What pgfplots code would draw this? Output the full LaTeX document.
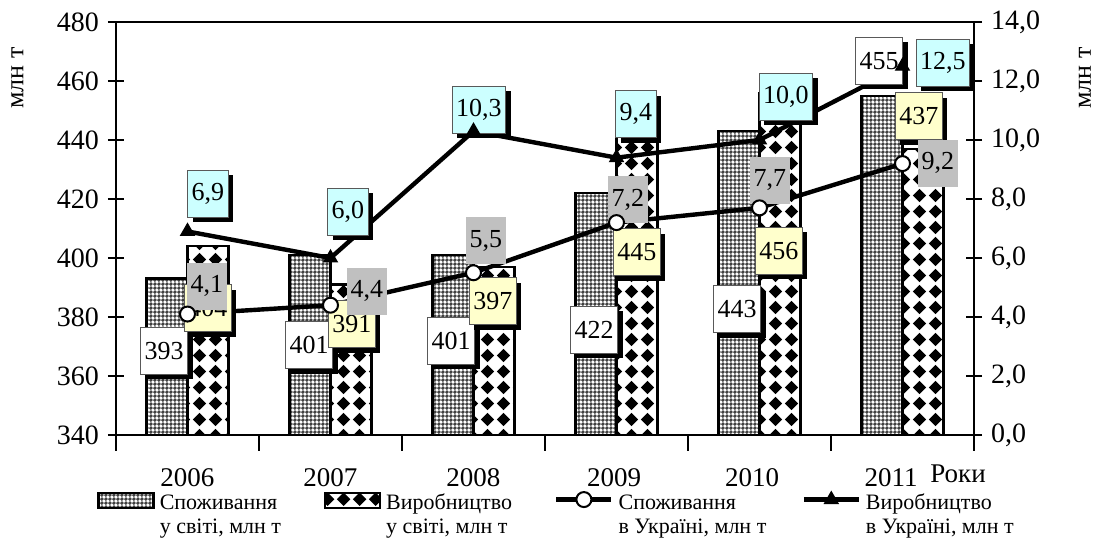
\documentclass[border=0pt]{standalone}
\usepackage{fontspec}
\setmainfont{Liberation Serif}
\usepackage{pgfplots}
\pgfplotsset{compat=1.18}
\usetikzlibrary{patterns,shadows}

\pgfdeclarepatternformonly{finecheck}{\pgfqpoint{0pt}{0pt}}{\pgfqpoint{2.2pt}{2.2pt}}{\pgfqpoint{2.2pt}{2.2pt}}{%
  \pgfpathmoveto{\pgfqpoint{1.1pt}{0pt}}\pgfpathlineto{\pgfqpoint{2.2pt}{1.1pt}}%
  \pgfpathlineto{\pgfqpoint{1.1pt}{2.2pt}}\pgfpathlineto{\pgfqpoint{0pt}{1.1pt}}%
  \pgfpathclose\pgfusepath{fill}}
\pgfdeclarepatternformonly{bigdiamonds}{\pgfqpoint{0pt}{0pt}}{\pgfqpoint{8pt}{8pt}}{\pgfqpoint{8pt}{8pt}}{%
  \pgfpathmoveto{\pgfqpoint{4pt}{0.5pt}}\pgfpathlineto{\pgfqpoint{7.5pt}{4pt}}%
  \pgfpathlineto{\pgfqpoint{4pt}{7.5pt}}\pgfpathlineto{\pgfqpoint{0.5pt}{4pt}}%
  \pgfpathclose\pgfusepath{fill}}

\definecolor{labyellow}{HTML}{FFFFCC}
\definecolor{labcyan}{HTML}{CCFFFF}
\definecolor{labgray}{HTML}{C0C0C0}

\newcommand{\bigfont}{\fontsize{13}{15}\selectfont}
\newcommand{\yfont}{\fontsize{14}{16}\selectfont}
\newcommand{\xfont}{\fontsize{13.5}{16}\selectfont}
\newcommand{\legfont}{\fontsize{11}{12}\selectfont}

\tikzset{
  lab/.style={font=\bigfont, inner xsep=2pt, inner ysep=0pt, minimum height=23.5pt,
    draw=black!65, line width=0.5pt,
    drop shadow={shadow xshift=2.5pt, shadow yshift=-2.5pt, fill=black, opacity=1}},
  labg/.style={font=\bigfont, inner xsep=2pt, inner ysep=0pt, minimum height=23.5pt, fill=labgray},
}

\pgfplotsset{
  consbar/.style={draw=black, line width=1.2pt, pattern=finecheck, pattern color=black!75},
  prodbar/.style={draw=black, line width=1.2pt, pattern=bigdiamonds, pattern color=black},
  barleg/.style={legend image code/.code={\draw[##1] (0pt,0.5pt) rectangle (27.5pt,8pt);}},
  lineleg/.style={legend image code/.code={\draw[mark repeat=2,mark phase=2,##1]
      plot coordinates {(0pt,4.75pt)(13.75pt,4.75pt)(27.5pt,4.75pt)};}},
  consline/.style={black, line width=2.2pt, mark=*, mark size=3.75pt,
      mark options={fill=white, draw=black, line width=1pt}},
  prodline/.style={black, line width=2.2pt, mark=triangle*, mark size=4pt,
      mark options={fill=black, draw=black, line width=0.5pt}},
}

\begin{document}
\begin{tikzpicture}
\useasboundingbox (-58pt,-52pt) rectangle (491pt,217.5pt);

% ---------- world bars (left axis) ----------
\begin{axis}[
  scale only axis, width=429pt, height=206.5pt,
  xmin=-0.5, xmax=5.5, ymin=340, ymax=480,
  ytick={340,360,...,480}, ytick pos=left,
  xtick={0,1,2,2.983,3.948,4.920},
  xticklabels={2006,2007,2008,2009,2010,2011},
  minor xtick={-0.5,0.5,...,5.5}, xtick pos=bottom,
  tick align=center, major tick length=8pt, minor tick length=8pt,
  every major x tick/.append style={draw=none},
  every tick/.append style={black, line width=0.8pt},
  axis line style={line width=1.2pt},
  yticklabel style={font=\yfont},
  xticklabel style={font=\xfont},
  /pgf/number format/assume math mode=true,
  yticklabel shift=1.0pt, xticklabel shift=5.2pt,
  ybar, bar width=20.5pt,
  clip=false,
  ylabel={млн т},
  ylabel style={at={(axis description cs:-0.1148,0.8644)}, anchor=center, font=\bigfont},
]
\addplot[consbar, bar shift=-10.25pt] coordinates {(0,393) (1,401) (2,401) (3,422) (4,443) (5,455)};
\addplot[prodbar, bar shift=10.25pt] coordinates {(0,404) (1,391) (2,397) (3,445) (4,456) (5,437)};
\end{axis}

% ---------- Ukraine lines (right axis) ----------
\begin{axis}[
  scale only axis, width=429pt, height=206.5pt,
  xmin=-0.5, xmax=5.5, ymin=0, ymax=14,
  axis x line=none, axis y line*=right,
  ytick={0,2,...,14},
  tick align=center, major tick length=8pt,
  every tick/.append style={black, line width=0.8pt},
  axis line style={-, line width=1.2pt},
  yticklabel style={font=\yfont, /pgf/number format/.cd, fixed, fixed zerofill, precision=1, use comma},
  /pgf/number format/assume math mode=true,
  yticklabel shift=1.0pt,
  clip=false,
  legend columns=4,
  legend style={at={(axis description cs:-0.02214,-0.136)}, anchor=north west,
    draw=none, fill=none, inner sep=0pt, font=\legfont,
    /tikz/column sep=0pt, cells={anchor=base west},
    nodes={inner xsep=2.5pt, inner ysep=0pt, text depth=}},
]
\addlegendimage{consbar, barleg}
\addlegendentry{\makebox[79.5pt][l]{\begin{tabular}[t]{@{}l@{}}Споживання\\у світі, млн т\end{tabular}}}
\addlegendimage{prodbar, barleg}
\addlegendentry{\makebox[81.5pt][l]{\begin{tabular}[t]{@{}l@{}}Виробництво\\у світі, млн т\end{tabular}}}
\addplot[consline, lineleg] coordinates {(0,4.1) (1,4.4) (2,5.5) (3,7.2) (4,7.7) (5,9.2)};
\addlegendentry{\makebox[89pt][l]{\begin{tabular}[t]{@{}l@{}}Споживання\\в Україні, млн т\end{tabular}}}
\addplot[prodline, lineleg] coordinates {(0,6.9) (1,6.0) (2,10.3) (3,9.4) (4,10.0) (5,12.5)};
\addlegendentry{\makebox[70pt][l]{\begin{tabular}[t]{@{}l@{}}Виробництво\\в Україні, млн т\end{tabular}}}

% world consumption labels
\node[lab, fill=white] at (axis cs:-0.164,2.85) {393};
\node[lab, fill=white] at (axis cs:0.850,3.05) {401};
\node[lab, fill=white] at (axis cs:1.843,3.19) {401};
\node[lab, fill=white] at (axis cs:2.843,3.56) {422};
\node[lab, fill=white] at (axis cs:3.843,4.27) {443};
\node[lab, fill=white] at (axis cs:4.836,12.68) {455};
% world production labels
\node[lab, fill=labyellow] at (axis cs:0.143,4.30) {404};
\node[lab, fill=labyellow] at (axis cs:1.150,3.76) {391};
\node[lab, fill=labyellow] at (axis cs:2.136,4.54) {397};
\node[lab, fill=labyellow] at (axis cs:3.143,6.20) {445};
\node[lab, fill=labyellow] at (axis cs:4.136,6.24) {456};
\node[lab, fill=labyellow] at (axis cs:5.115,10.81) {437};
% Ukraine production labels
\node[lab, fill=labcyan] at (axis cs:0.143,8.17) {6,9};
\node[lab, fill=labcyan] at (axis cs:1.122,7.56) {6,0};
\node[lab, fill=labcyan] at (axis cs:2.038,11.02) {10,3};
\node[lab, fill=labcyan] at (axis cs:3.136,10.88) {9,4};
\node[lab, fill=labcyan] at (axis cs:4.185,11.46) {10,0};
\node[lab, fill=labcyan] at (axis cs:5.283,12.61) {12,5};
% Ukraine consumption labels
\node[labg] at (axis cs:0.136,5.05) {4,1};
\node[labg] at (axis cs:1.255,4.88) {4,4};
\node[labg] at (axis cs:2.087,6.58) {5,5};
\node[labg] at (axis cs:3.080,7.97) {7,2};
\node[labg] at (axis cs:4.073,8.64) {7,7};
\node[labg] at (axis cs:5.248,9.22) {9,2};

\node[anchor=base, font=\xfont] at (axis description cs:0.9814,-0.1162) {Роки};
\node[rotate=90, font=\bigfont] at (axis description cs:1.1294,0.8644) {млн т};
\end{axis}
\end{tikzpicture}
\end{document}
